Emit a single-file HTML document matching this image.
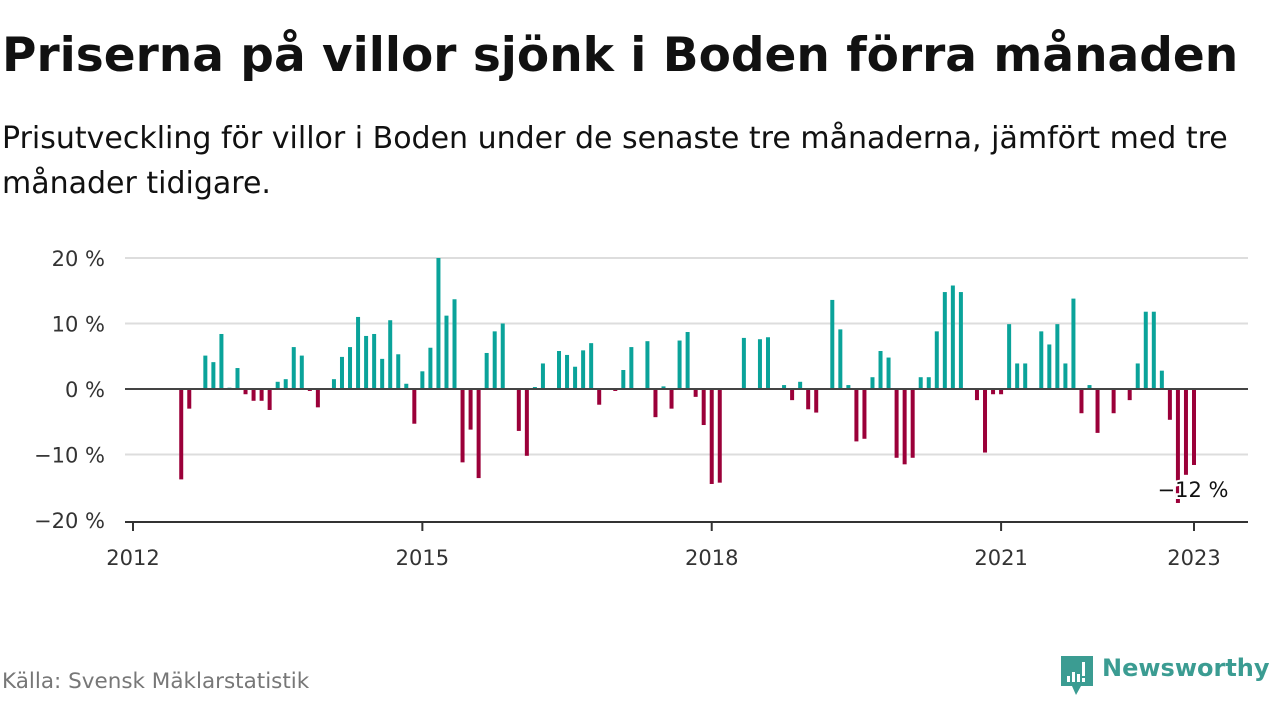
<!DOCTYPE html>
<html><head><meta charset="utf-8">
<style>
body{margin:0;width:1280px;height:720px;background:#fff;font-family:"DejaVu Sans","Liberation Sans",sans-serif;overflow:hidden;position:relative}
h1{position:absolute;left:2px;top:28px;margin:0;font-size:47px;font-weight:bold;color:#111;white-space:nowrap}
.sub{position:absolute;left:2px;top:116px;font-size:30px;line-height:45px;color:#111;width:1272px}
.src{position:absolute;left:2px;top:669px;font-size:21.5px;color:#777}
.logo{position:absolute;left:1058px;top:654px}
.logo span{position:absolute;left:44px;top:0px;font-size:24px;font-weight:bold;color:#3b9c92;white-space:nowrap}
</style></head><body>
<h1>Priserna på villor sjönk i Boden förra månaden</h1>
<div class="sub">Prisutveckling för villor i Boden under de senaste tre månaderna, jämfört med tre månader tidigare.</div>
<svg id="chart" width="1280" height="720" style="position:absolute;left:0;top:0"></svg>
<div class="src">Källa: Svensk Mäklarstatistik</div>
<div class="logo">
<svg width="38" height="44" viewBox="0 0 36 44"><path d="M2 2h32v30H22l-5 9-4-9H2z" fill="#3b9c92"/><rect x="8" y="22" width="3" height="6" fill="#fff"/><rect x="13" y="18" width="3" height="10" fill="#fff"/><rect x="18" y="20" width="3" height="8" fill="#fff"/><rect x="23" y="8" width="3" height="14" fill="#fff"/><rect x="23" y="24" width="3" height="4" fill="#fff"/></svg>
<span>Newsworthy</span></div>
<script>
const months=[6,7,9,10,11,12,13,14,15,16,17,18,19,20,21,22,23,25,26,27,28,29,30,31,32,33,34,35,36,37,38,39,40,41,42,43,44,45,46,48,49,50,51,53,54,55,56,57,58,60,61,62,64,65,66,67,68,69,70,71,72,73,76,78,79,81,82,83,84,85,87,88,89,90,91,92,93,94,95,96,97,98,99,100,101,102,103,105,106,107,108,109,110,111,113,114,115,116,117,118,119,120,122,124,125,126,127,128,129,130,131,132];
const values=[-13.8,-3,5.1,4.1,8.4,0.2,3.2,-0.8,-1.8,-1.8,-3.2,1.1,1.5,6.4,5.1,-0.3,-2.8,1.5,4.9,6.4,11,8.1,8.4,4.6,10.5,5.3,0.8,-5.3,2.7,6.3,20,11.2,13.7,-11.2,-6.2,-13.6,5.5,8.8,10,-6.4,-10.2,0.3,3.9,5.8,5.2,3.4,5.9,7,-2.4,-0.3,2.9,6.4,7.3,-4.3,0.4,-3,7.4,8.7,-1.2,-5.5,-14.5,-14.3,7.8,7.6,7.9,0.6,-1.7,1.1,-3.1,-3.6,13.6,9.1,0.6,-8,-7.6,1.8,5.8,4.8,-10.5,-11.5,-10.5,1.8,1.8,8.8,14.8,15.8,14.8,-1.7,-9.7,-0.8,-0.8,9.9,3.9,3.9,8.8,6.8,9.9,3.9,13.8,-3.7,0.6,-6.7,-3.7,-1.7,3.9,11.8,11.8,2.8,-4.7,-17.4,-13.1,-11.6];
const yTicks=[20,10,0,-10,-20];
const yTickLabels=["20 %","10 %","0 %","−10 %","−20 %"];
const xTicks=[2012,2015,2018,2021,2023];
const annotation="−12 %";
const NS="http://www.w3.org/2000/svg";
const svg=document.getElementById('chart');
const x=m=>133+m*(1194-133)/132;
const y=v=>389-v*6.55;
function mk(t,a){const e=document.createElementNS(NS,t);for(const k in a)e.setAttribute(k,a[k]);svg.appendChild(e);return e;}
yTicks.forEach((t,i)=>{
  if(t!==-20){const g=mk('line',{x1:125,x2:1248,y1:y(t),y2:y(t),stroke:'#ddd','stroke-width':2});
  
  }
  const l=mk('text',{x:105,y:y(t)+8,'text-anchor':'end','font-size':21,fill:'#333'});
  
  
  l.textContent=yTickLabels[i];
});
months.forEach((m,i)=>{
  const v=values[i];
  const r=mk('rect',{x:x(m)-2,y:Math.min(y(v),y(0)),width:4,height:Math.max(Math.abs(y(v)-y(0)),1),fill:v>=0?'#0aa39a':'#9b0039'});
  
  
});
const z=mk('line',{x1:125,x2:1248,y1:y(0),y2:y(0),stroke:'#444','stroke-width':2});


const ax=mk('line',{x1:125,x2:1248,y1:522,y2:522,stroke:'#333','stroke-width':2});


xTicks.forEach(yr=>{
  const px=x((yr-2012)*12);
  const t=mk('line',{x1:px,x2:px,y1:522,y2:531,stroke:'#333','stroke-width':2});
  
  
  const l=mk('text',{x:px,y:565,'text-anchor':'middle','font-size':21,fill:'#333'});
  
  
  l.textContent=yr;
});
const lastM=months[months.length-1];
const a=mk('text',{x:x(lastM)-1,y:497,'text-anchor':'middle','font-size':21,fill:'#111',stroke:'#fff','stroke-width':4,'paint-order':'stroke'});


a.textContent=annotation;
</script>
</body></html>
